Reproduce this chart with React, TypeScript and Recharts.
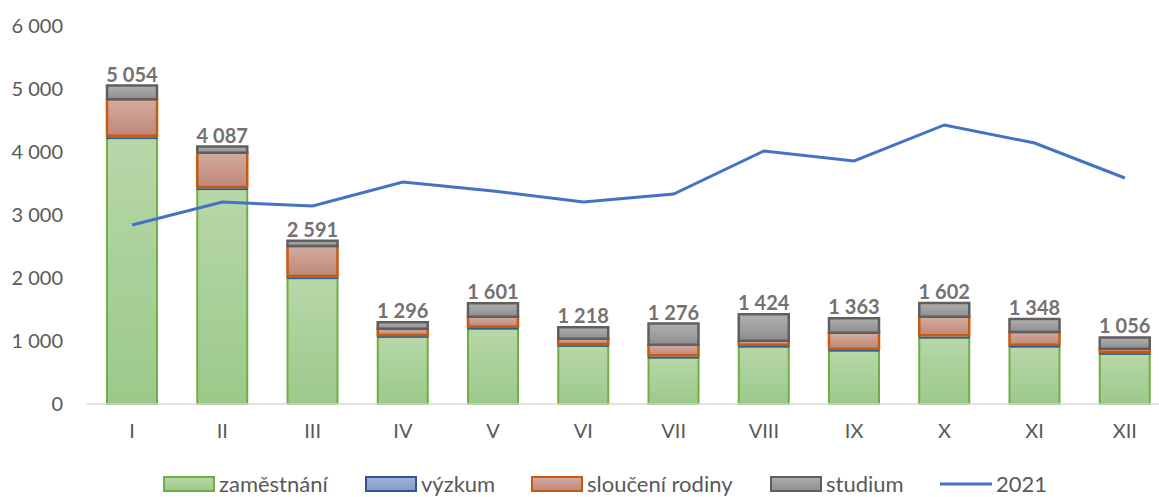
import React from 'react';
import { ComposedChart, Bar, Line, XAxis, YAxis, Legend, LabelList } from 'recharts';

const months = ['I', 'II', 'III', 'IV', 'V', 'VI', 'VII', 'VIII', 'IX', 'X', 'XI', 'XII'];
const zamestnani = [4217, 3410, 1995, 1065, 1195, 920, 735, 910, 846, 1052, 910, 794];
const vyzkum = [40, 35, 37, 30, 32, 32, 38, 31, 32, 38, 31, 31];
const slouceni = [580, 545, 476, 100, 159, 85, 168, 64, 254, 296, 202, 53];
const studium = [217, 97, 83, 101, 215, 181, 335, 419, 231, 216, 205, 178];
const totals = [5054, 4087, 2591, 1296, 1601, 1218, 1276, 1424, 1363, 1602, 1348, 1056];
const rok2021 = [2841, 3206, 3143, 3524, 3381, 3206, 3333, 4016, 3857, 4429, 4143, 3587];
const yTicks = [0, 1000, 2000, 3000, 4000, 5000, 6000];

const data = months.map((m, i) => ({
  month: m,
  zamestnani: zamestnani[i],
  vyzkum: vyzkum[i],
  slouceni: slouceni[i],
  studium: studium[i],
  total: totals[i],
  rok2021: rok2021[i],
}));

const FONT = 'Lato, "Noto Sans", sans-serif';
const fmt = (v: number) => String(v).replace(/\B(?=(\d{3})+(?!\d))/g, ' ');

const TotalLabel = (props: any) => {
  const { x, y, width, index } = props;
  return (
    <text
      x={x + width / 2}
      y={y - 12}
      textAnchor="middle"
      dominantBaseline="central"
      fill="#767171"
      fontFamily={FONT}
      fontWeight={700}
      fontSize={20}
    >
      {fmt(totals[index])}
    </text>
  );
};

const legendItems = [
  { label: 'zaměstnání', left: 163, type: 'rect', fill: 'url(#gGreen)', stroke: '#70ad47' },
  { label: 'výzkum', left: 365, type: 'rect', fill: 'url(#gBlue)', stroke: '#2f5597' },
  { label: 'sloučení rodiny', left: 531, type: 'rect', fill: 'url(#gRed)', stroke: '#c55a11' },
  { label: 'studium', left: 770, type: 'rect', fill: 'url(#gGray)', stroke: '#5f5f5f' },
  { label: '2021', left: 940, type: 'line', fill: '', stroke: '#4472c4' },
];

const LegendContent = () => (
  <div style={{ position: 'relative', width: 1171, height: 24, fontFamily: FONT, fontSize: 22, lineHeight: '24px', color: '#595959' }}>
    {legendItems.map((it) => (
      <div key={it.label} style={{ position: 'absolute', left: it.left, top: 0, display: 'flex', alignItems: 'center', height: 24, whiteSpace: 'nowrap' }}>
        <svg width={52} height={18} style={{ marginRight: 4, display: 'block' }}>
          {it.type === 'rect' ? (
            <rect x={1} y={2} width={50} height={14} fill={it.fill} stroke={it.stroke} strokeWidth={2} />
          ) : (
            <line x1={0} y1={9} x2={52} y2={9} stroke={it.stroke} strokeWidth={3} />
          )}
        </svg>
        <span>{it.label}</span>
      </div>
    ))}
  </div>
);

export default function App() {
  return (
    <div style={{ position: 'fixed', left: 0, top: 0, width: 1159, height: 497, overflow: 'hidden', background: '#fff' }}>
      <svg width={0} height={0} style={{ position: 'absolute' }}>
        <defs>
          <linearGradient id="gGreen" x1="0" y1="0" x2="0" y2="1">
            <stop offset="0%" stopColor="#b7d7a8" />
            <stop offset="100%" stopColor="#9cc98a" />
          </linearGradient>
          <linearGradient id="gBlue" x1="0" y1="0" x2="0" y2="1">
            <stop offset="0%" stopColor="#a0b4d6" />
            <stop offset="100%" stopColor="#7f9bc9" />
          </linearGradient>
          <linearGradient id="gRed" x1="0" y1="0" x2="0" y2="1">
            <stop offset="0%" stopColor="#d3aba1" />
            <stop offset="100%" stopColor="#c08878" />
          </linearGradient>
          <linearGradient id="gGray" x1="0" y1="0" x2="0" y2="1">
            <stop offset="0%" stopColor="#b0b0b0" />
            <stop offset="100%" stopColor="#8e8e8e" />
          </linearGradient>
        </defs>
      </svg>
      <ComposedChart
        width={1171}
        height={497}
        data={data}
        margin={{ top: 26, right: 1, bottom: 0, left: 0 }}
        barCategoryGap={0}
      >
        <defs>
          <linearGradient id="bGreen" x1="0" y1="0" x2="0" y2="1">
            <stop offset="0%" stopColor="#b7d7a8" />
            <stop offset="100%" stopColor="#9cc98a" />
          </linearGradient>
          <linearGradient id="bBlue" x1="0" y1="0" x2="0" y2="1">
            <stop offset="0%" stopColor="#8faadc" />
            <stop offset="100%" stopColor="#6f8fc8" />
          </linearGradient>
          <linearGradient id="bRed" x1="0" y1="0" x2="0" y2="1">
            <stop offset="0%" stopColor="#d3aba1" />
            <stop offset="100%" stopColor="#c08878" />
          </linearGradient>
          <linearGradient id="bGray" x1="0" y1="0" x2="0" y2="1">
            <stop offset="0%" stopColor="#b0b0b0" />
            <stop offset="100%" stopColor="#8e8e8e" />
          </linearGradient>
        </defs>
        <XAxis
          dataKey="month"
          height={93}
          tickLine={false}
          axisLine={{ stroke: '#d9d9d9', strokeWidth: 1.5 }}
          tick={{ fill: '#595959', fontSize: 20, fontFamily: FONT }}
          tickMargin={14}
          interval={0}
        />
        <YAxis
          width={87}
          domain={[0, 6000]}
          ticks={yTicks}
          tickFormatter={fmt}
          axisLine={false}
          tickLine={false}
          tickMargin={18}
          tick={{ fill: '#595959', fontSize: 20, fontFamily: FONT }}
          interval={0}
        />
        <Bar dataKey="zamestnani" stackId="a" barSize={50} fill="url(#bGreen)" stroke="#70ad47" strokeWidth={2} isAnimationActive={false} />
        <Bar dataKey="vyzkum" stackId="a" barSize={50} fill="url(#bBlue)" stroke="#2e5f8f" strokeWidth={1.5} isAnimationActive={false} />
        <Bar dataKey="slouceni" stackId="a" barSize={50} fill="url(#bRed)" stroke="#c55a11" strokeWidth={2.5} isAnimationActive={false} />
        <Bar dataKey="studium" stackId="a" barSize={50} fill="url(#bGray)" stroke="#5f5f5f" strokeWidth={2.5} isAnimationActive={false}>
          <LabelList dataKey="total" content={<TotalLabel />} />
        </Bar>
        <Line dataKey="rok2021" type="linear" stroke="#4472c4" strokeWidth={3} dot={false} activeDot={false} isAnimationActive={false} />
        <Legend
          layout="horizontal"
          verticalAlign="middle"
          align="center"
          content={<LegendContent />}
          wrapperStyle={{ position: 'absolute', top: 472, left: 0, width: 1171, height: 24 }}
        />
      </ComposedChart>
    </div>
  );
}
